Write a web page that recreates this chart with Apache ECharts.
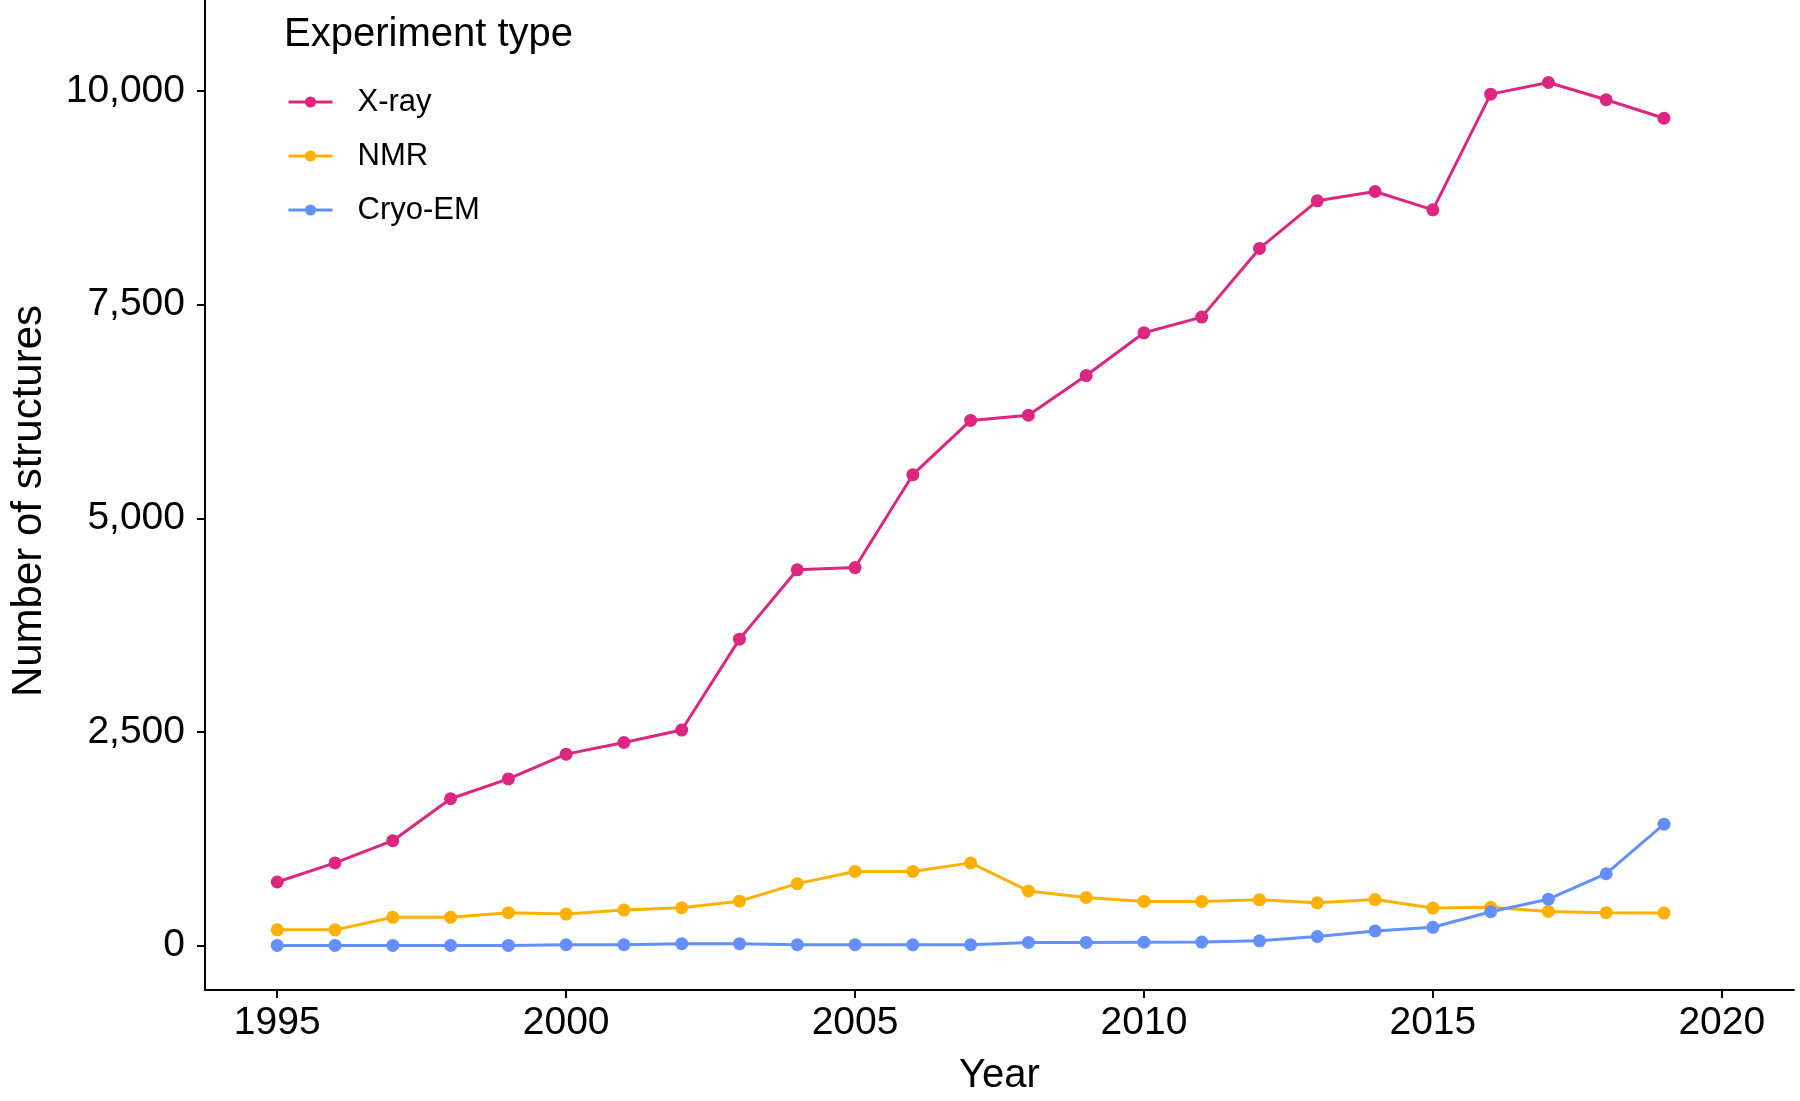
<!DOCTYPE html>
<html>
<head>
<meta charset="utf-8">
<script src="https://cdn.jsdelivr.net/npm/echarts@6/dist/echarts.min.js"></script>
<style>
html,body{margin:0;padding:0;background:#fff;}
#chart{width:1800px;height:1101px;}
</style>
</head>
<body>
<div id="chart"></div>
<script>
// ---- Data ----
const years = [1995,1996,1997,1998,1999,2000,2001,2002,2003,2004,2005,2006,2007,2008,2009,2010,2011,2012,2013,2014,2015,2016,2017,2018,2019];
const xray  = [742,966,1226,1717,1949,2239,2375,2521,3585,4397,4423,5510,6145,6206,6671,7171,7355,8159,8716,8825,8611,9965,10101,9899,9683];
const nmr   = [182,182,329,329,383,367,414,441,518,723,866,866,966,638,561,515,515,534,499,537,437,446,398,383,379];
const cryo  = [0,0,0,0,0,8,8,20,20,8,8,8,8,35,35,37,39,54,104,170,212,394,541,839,1419];
const seriesNames = ['X-ray','NMR','Cryo-EM'];
const xTicks = [1995,2000,2005,2010,2015,2020];
const yTicks = [0,2500,5000,7500,10000];
const legendTitle = 'Experiment type';
const xTitle = 'Year';
const yTitle = 'Number of structures';

const colors = ['#DC267F','#FFB000','#648FFF'];
const FONT = '"Liberation Sans", Arial, Helvetica, sans-serif';

function pairs(vals){ return years.map((y,i)=>[y, vals[i]]); }

const chart = echarts.init(document.getElementById('chart'), null, {renderer:'canvas'});
const mk = (name, vals, color) => ({
  name: name,
  type: 'line',
  data: pairs(vals),
  symbol: 'circle',
  symbolSize: 13,
  showSymbol: true,
  lineStyle: {color: color, width: 3},
  itemStyle: {color: color},
  emphasis: {disabled: true},
  animation: false
});

chart.setOption({
  animation: false,
  backgroundColor: '#ffffff',
  color: colors,
  title: {
    text: legendTitle,
    left: 279, top: 10,
    textStyle: {fontFamily: FONT, fontSize: 40, fontWeight: 'normal', color: '#000'}
  },
  legend: {
    orient: 'vertical',
    left: 282, top: 80,
    itemWidth: 44, itemHeight: 14,
    itemGap: 20,
    data: seriesNames,
    itemStyle: {borderWidth: 0},
    lineStyle: {width: 3},
    textStyle: {fontFamily: FONT, fontSize: 31, color: '#000', lineHeight: 34, padding: [0,0,0,20]}
  },
  grid: {left: 204, right: 6, top: 0, bottom: 102, containLabel: false},
  xAxis: {
    type: 'value',
    min: 1993.75, max: 2021.25,
    name: xTitle,
    nameLocation: 'middle',
    nameGap: 66,
    nameTextStyle: {fontFamily: FONT, fontSize: 40, color: '#000'},
    axisLine: {show: true, onZero: false, lineStyle: {color: '#000', width: 2}},
    axisTick: {show: true, length: 8, lineStyle: {color: '#000', width: 2}, customValues: xTicks},
    axisLabel: {fontFamily: FONT, fontSize: 39, color: '#000', margin: 14, customValues: xTicks, formatter: v => String(v)},
    splitLine: {show: false}
  },
  yAxis: {
    type: 'value',
    min: -522, max: 11067,
    name: yTitle,
    nameLocation: 'middle',
    nameGap: 155,
    nameRotate: 90,
    nameTextStyle: {fontFamily: FONT, fontSize: 42, color: '#000', padding: [0,12,0,0]},
    axisLine: {show: true, onZero: false, lineStyle: {color: '#000', width: 2}},
    axisTick: {show: true, length: 8, lineStyle: {color: '#000', width: 2}, customValues: yTicks},
    axisLabel: {fontFamily: FONT, fontSize: 39, color: '#000', margin: 20, customValues: yTicks,
      formatter: v => Number(v).toLocaleString('en-US')},
    splitLine: {show: false}
  },
  series: [
    mk(seriesNames[0], xray, colors[0]),
    mk(seriesNames[1], nmr, colors[1]),
    mk(seriesNames[2], cryo, colors[2])
  ]
});
</script>
</body>
</html>
